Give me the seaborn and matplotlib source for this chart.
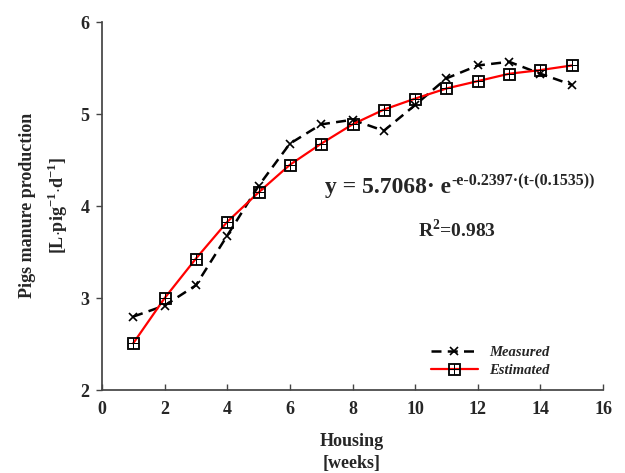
import numpy as np
import pandas as pd
import matplotlib
matplotlib.use("Agg")
import matplotlib.pyplot as plt
import seaborn as sns

weeks = [1, 2, 3, 4, 5, 6, 7, 8, 9, 10, 11, 12, 13, 14, 15]
measured = [2.80, 2.92, 3.14, 3.68, 4.22, 4.68, 4.89, 4.94, 4.82, 5.10, 5.39, 5.53, 5.57, 5.44, 5.32]
estimated = [2.51, 3.00, 3.43, 3.83, 4.15, 4.45, 4.68, 4.89, 5.05, 5.17, 5.28, 5.36, 5.44, 5.48, 5.53]
xticks = [0, 2, 4, 6, 8, 10, 12, 14, 16]
yticks = [2, 3, 4, 5, 6]

sns.set_theme(style="ticks")
plt.rcParams['font.family'] = ['Liberation Serif', 'DejaVu Serif']
plt.rcParams['mathtext.fontset'] = 'custom'
plt.rcParams['mathtext.rm'] = 'Liberation Serif'
plt.rcParams['mathtext.bf'] = 'Liberation Serif:bold'

fig = plt.figure(figsize=(6.25, 4.73), dpi=100)
ax = fig.add_axes([0.163, 0.175, 0.802, 0.778])

df = pd.DataFrame({"week": weeks, "Measured": measured, "Estimated": estimated})

sns.lineplot(data=df, x="week", y="Measured", ax=ax, color="black", linestyle=(0, (4, 2.5)),
             linewidth=1.8, marker="x", markersize=6, markeredgewidth=1.2,
             markeredgecolor="black", label="Measured")
sns.lineplot(data=df, x="week", y="Estimated", ax=ax, color="red", linewidth=1.6,
             marker=r"$\boxplus$", markersize=9, markeredgewidth=0.6,
             markeredgecolor="black", markerfacecolor="black", label="Estimated")

ax.set_xlim(0, 16)
ax.set_ylim(2, 6)
ax.set_xticks(xticks)
ax.set_yticks(yticks)
ax.tick_params(axis='both', labelsize=13, width=1, color="#444444")
ax.tick_params(axis='x', direction="in", length=4, pad=8)
ax.tick_params(axis='y', direction="out", length=4, pad=5)
for lab in ax.get_xticklabels() + ax.get_yticklabels():
    lab.set_fontweight("bold")
sns.despine(ax=ax)
ax.spines['left'].set_color("#444444")
ax.spines['bottom'].set_color("#444444")

ax.set_xlabel("")
ax.set_ylabel("")
fig.text(0.563, 0.066, "Housing", ha="center", va="center", fontsize=13, fontweight="bold")
fig.text(0.563, 0.020, "[weeks]", ha="center", va="center", fontsize=13, fontweight="bold")
fig.text(0.044, 0.565, "Pigs manure production", rotation=90, ha="center", va="center",
         fontsize=13, fontweight="bold")
fig.text(0.092, 0.565, r"[L$\cdot$pig$^{\mathbf{-1}}$$\cdot$d$^{\mathbf{-1}}$]", rotation=90,
         ha="center", va="center", fontsize=13, fontweight="bold")

base = ax.text(0.445, 0.535, "y = 5.7068\u00b7 e", transform=ax.transAxes, fontsize=17,
               fontweight="bold", ha="left", va="baseline")
ax.annotate("-e-0.2397\u00b7(t-(0.1535))", xy=(1.0, 0.62), xycoords=base,
            fontsize=11.5, fontweight="bold", ha="left", va="baseline")
ax.text(0.63, 0.437, r"R$^{\mathbf{2}}$=0.983", transform=ax.transAxes, fontsize=14,
        fontweight="bold", ha="left", va="center")

leg = ax.legend(loc="lower right", bbox_to_anchor=(0.92, 0.0), frameon=False,
                prop={"family": "Liberation Serif", "style": "italic", "weight": "bold", "size": 10.5},
                handlelength=3.2, labelspacing=0.35)

fig.savefig("out.png", dpi=100)
